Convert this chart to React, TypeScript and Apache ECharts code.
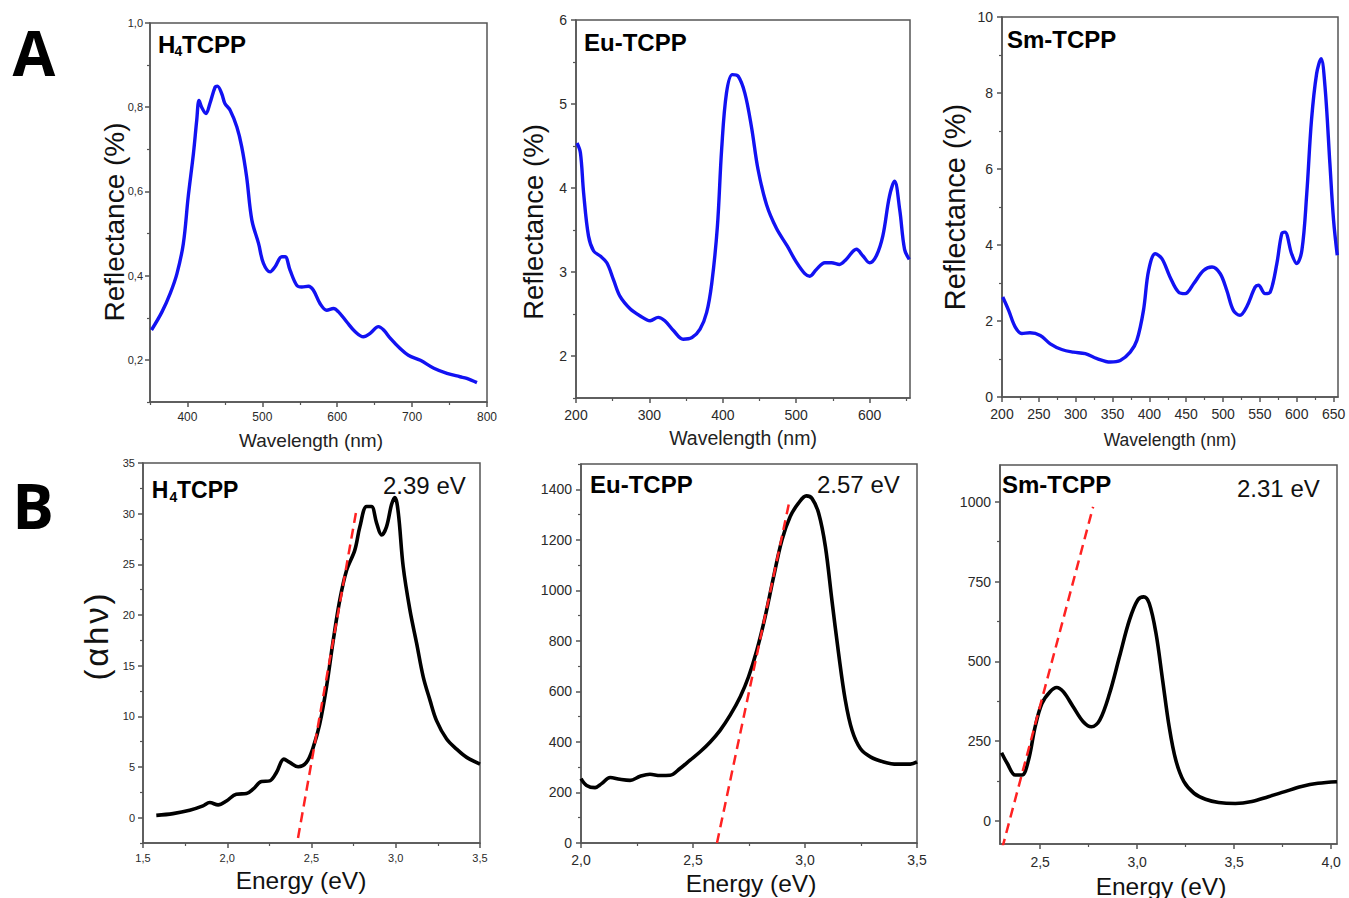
import React, { useEffect, useRef } from "react";
import * as echarts from "echarts";

// ---------- DATA ----------
// Panel A: reflectance spectra
const h4Wavelength = [352, 366, 377, 386, 394.5, 401, 408, 412.4, 415.5, 419, 424.8, 430, 437, 440, 445.8, 450, 457, 466, 472.5, 479, 486, 495, 501.5, 510.4, 517, 526, 530.4, 537, 546, 552.7, 561.6, 568, 577, 586, 595, 601.7, 612.8, 624, 635, 644, 655, 662, 671, 684, 695, 711, 729, 746.5, 764, 773, 786.6];
const h4Reflectance = [0.271, 0.314, 0.358, 0.405, 0.476, 0.587, 0.69, 0.769, 0.816, 0.8, 0.785, 0.809, 0.848, 0.85, 0.832, 0.809, 0.793, 0.753, 0.706, 0.635, 0.532, 0.476, 0.429, 0.409, 0.421, 0.445, 0.445, 0.413, 0.377, 0.373, 0.375, 0.366, 0.334, 0.318, 0.322, 0.314, 0.29, 0.267, 0.255, 0.263, 0.279, 0.271, 0.251, 0.227, 0.211, 0.199, 0.18, 0.168, 0.16, 0.156, 0.146];

const euWavelength = [201.4, 206, 210.4, 217, 224, 233, 242, 251, 260, 274, 287, 301, 312, 321, 333, 346, 358, 369, 378, 385, 392.6, 398.4, 405, 413, 421, 430, 439, 448, 459.6, 473, 487.7, 500, 511.7, 518.5, 527.5, 539, 548, 559, 568, 582, 591, 600, 609, 618, 627, 634, 641, 647.6, 654];
const euReflectance = [4.535, 4.42, 3.94, 3.43, 3.25, 3.19, 3.11, 2.91, 2.71, 2.56, 2.48, 2.42, 2.46, 2.42, 2.3, 2.2, 2.22, 2.32, 2.52, 2.87, 3.54, 4.46, 5.13, 5.35, 5.33, 5.13, 4.73, 4.22, 3.8, 3.52, 3.31, 3.12, 2.98, 2.95, 3.03, 3.11, 3.11, 3.09, 3.15, 3.27, 3.19, 3.11, 3.19, 3.43, 3.9, 4.08, 3.74, 3.27, 3.15];

const smWavelength = [201, 209, 218, 227, 238, 252, 265.5, 281, 297, 313, 329, 347, 360.5, 374, 383, 392, 399, 408, 417, 428, 439.6, 448.6, 460, 473.5, 485, 496, 505, 514, 523, 532, 543.5, 548, 557, 564, 573, 579.7, 584, 593, 600, 607, 613.6, 620, 627, 633, 638.4, 645, 650, 655];
const smReflectance = [2.63, 2.28, 1.84, 1.67, 1.69, 1.62, 1.4, 1.25, 1.18, 1.14, 1.01, 0.92, 0.96, 1.18, 1.49, 2.28, 3.33, 3.77, 3.64, 3.16, 2.76, 2.72, 2.98, 3.33, 3.42, 3.25, 2.81, 2.28, 2.15, 2.37, 2.89, 2.94, 2.72, 2.76, 3.51, 4.3, 4.34, 3.77, 3.51, 3.86, 5.35, 7.28, 8.51, 8.9, 8.16, 6.14, 4.65, 3.73];

// Panel B: Tauc plots
const h4Energy = [1.579, 1.678, 1.777, 1.856, 1.896, 1.946, 1.995, 2.054, 2.114, 2.153, 2.203, 2.252, 2.292, 2.336, 2.371, 2.421, 2.47, 2.51, 2.549, 2.589, 2.629, 2.668, 2.708, 2.757, 2.787, 2.827, 2.856, 2.886, 2.916, 2.945, 2.975, 2.995, 3.015, 3.044, 3.084, 3.124, 3.163, 3.203, 3.242, 3.302, 3.361, 3.421, 3.5];
const h4Ahv = [0.23, 0.4, 0.73, 1.16, 1.49, 1.26, 1.65, 2.31, 2.38, 2.81, 3.57, 3.63, 4.46, 5.78, 5.45, 5.02, 5.45, 6.94, 9.25, 12.9, 17.5, 21.5, 24.4, 26.4, 28.7, 30.7, 30.7, 29.1, 27.9, 28.7, 30.9, 31.6, 30.1, 24.8, 20.5, 17.2, 13.9, 11.6, 9.58, 7.76, 6.77, 5.95, 5.29];
const h4FitEnergy = [2.42, 2.765];
const h4FitAhv = [-2, 30.2];

const euEnergy = [2.0, 2.025, 2.063, 2.092, 2.13, 2.174, 2.219, 2.264, 2.308, 2.353, 2.398, 2.442, 2.487, 2.532, 2.577, 2.621, 2.666, 2.711, 2.748, 2.785, 2.822, 2.86, 2.897, 2.934, 2.971, 3.006, 3.031, 3.061, 3.091, 3.12, 3.15, 3.18, 3.21, 3.247, 3.292, 3.351, 3.411, 3.47, 3.5];
const euAhv = [255, 228, 219, 235, 259, 252, 248, 264, 272, 267, 268, 295, 328, 361, 400, 446, 506, 579, 658, 763, 895, 1054, 1199, 1292, 1345, 1374, 1364, 1305, 1173, 962, 750, 565, 446, 374, 341, 321, 312, 312, 321];
const euFitEnergy = [2.607, 2.931];
const euFitAhv = [0, 1355];

const smEnergy = [2.301, 2.33, 2.372, 2.406, 2.44, 2.474, 2.509, 2.551, 2.585, 2.619, 2.67, 2.722, 2.764, 2.807, 2.858, 2.909, 2.96, 3.003, 3.034, 3.062, 3.097, 3.131, 3.165, 3.199, 3.241, 3.293, 3.352, 3.42, 3.506, 3.591, 3.676, 3.761, 3.847, 3.932, 4.03];
const smAhv = [214, 181, 144, 144, 191, 295, 368, 405, 418, 405, 358, 311, 295, 316, 400, 515, 629, 692, 702, 682, 588, 442, 295, 191, 123, 87, 68, 58, 55, 61, 76, 92, 108, 118, 123];
const smFitEnergy = [2.304, 2.773];
const smFitAhv = [-86, 984];

// Tick values
const aWlTicks1 = [400, 500, 600, 700, 800];
const aWlMinor1 = [350, 450, 550, 650, 750];
const aReflTicks1 = [0.2, 0.4, 0.6, 0.8, 1.0];
const aReflMinor1 = [0.1, 0.3, 0.5, 0.7, 0.9];
const aWlTicks2 = [200, 300, 400, 500, 600];
const aWlMinor2 = [250, 350, 450, 550, 650];
const aReflTicks2 = [2, 3, 4, 5, 6];
const aReflMinor2 = [1.5, 2.5, 3.5, 4.5, 5.5];
const aWlTicks3 = [200, 250, 300, 350, 400, 450, 500, 550, 600, 650];
const aWlMinor3 = [225, 275, 325, 375, 425, 475, 525, 575, 625];
const aReflTicks3 = [0, 2, 4, 6, 8, 10];
const aReflMinor3 = [1, 3, 5, 7, 9];
const bETicks1 = [1.5, 2.0, 2.5, 3.0, 3.5];
const bEMinor1 = [1.75, 2.25, 2.75, 3.25];
const bYTicks1 = [0, 5, 10, 15, 20, 25, 30, 35];
const bYMinor1 = [-2.5, 2.5, 7.5, 12.5, 17.5, 22.5, 27.5, 32.5];
const bETicks2 = [2.0, 2.5, 3.0, 3.5];
const bEMinor2 = [2.25, 2.75, 3.25];
const bYTicks2 = [0, 200, 400, 600, 800, 1000, 1200, 1400];
const bYMinor2 = [100, 300, 500, 700, 900, 1100, 1300, 1500];
const bETicks3 = [2.5, 3.0, 3.5, 4.0];
const bEMinor3 = [2.75, 3.25, 3.75];
const bYTicks3 = [0, 250, 500, 750, 1000];
const bYMinor3 = [125, 375, 625, 875];

// ---------- HELPERS ----------
const FONT = 'Arial, "Liberation Sans", Helvetica, sans-serif';
const AX = "#555";
const zip = (xs: number[], ys: number[]) => xs.map((x, i) => [x, ys[i]]);
const fmt = (dec: number) => (v: number) => v.toFixed(dec).replace(".", ",");

type AxisSpec = { min: number; max: number; major: number[]; minor: number[]; dec: number; fs: number; margin: number };

function makeAxes(kind: "x" | "y", gridIndex: number, s: AxisSpec) {
  const position = kind === "x" ? "bottom" : "left";
  const primary = {
    type: "value",
    gridIndex,
    position,
    min: s.min,
    max: s.max,
    axisLine: { show: true, onZero: false, lineStyle: { color: AX, width: 1.5 } },
    axisTick: { show: true, customValues: s.major, length: 5, inside: false, lineStyle: { color: AX, width: 1.5 } },
    axisLabel: { show: true, customValues: s.major, formatter: fmt(s.dec), fontSize: s.fs, color: "#2a2a2a", fontFamily: FONT, margin: s.margin },
    splitLine: { show: false },
  };
  const secondary = {
    type: "value",
    gridIndex,
    position,
    min: s.min,
    max: s.max,
    axisLine: { show: false, onZero: false },
    axisTick: { show: true, customValues: s.minor, length: 3, inside: false, lineStyle: { color: AX, width: 1.2 } },
    axisLabel: { show: false },
    splitLine: { show: false },
  };
  return [primary, secondary];
}

const panels = [
  {
    grid: { left: 150, top: 23, width: 337, height: 379 },
    x: { min: 350, max: 800, major: aWlTicks1, minor: aWlMinor1, dec: 0, fs: 12, margin: 9 },
    y: { min: 0.1, max: 1.0, major: aReflTicks1, minor: aReflMinor1, dec: 1, fs: 11, margin: 7 },
    data: zip(h4Wavelength, h4Reflectance), color: "#1212f2", width: 3.4, fit: null as null | number[][],
  },
  {
    grid: { left: 576, top: 20, width: 334, height: 378 },
    x: { min: 200, max: 655, major: aWlTicks2, minor: aWlMinor2, dec: 0, fs: 14, margin: 10 },
    y: { min: 1.5, max: 6, major: aReflTicks2, minor: aReflMinor2, dec: 0, fs: 14, margin: 9 },
    data: zip(euWavelength, euReflectance), color: "#1212f2", width: 3.4, fit: null as null | number[][],
  },
  {
    grid: { left: 1002, top: 17, width: 336, height: 380 },
    x: { min: 200, max: 656, major: aWlTicks3, minor: aWlMinor3, dec: 0, fs: 14, margin: 10 },
    y: { min: 0, max: 10, major: aReflTicks3, minor: aReflMinor3, dec: 0, fs: 14, margin: 9 },
    data: zip(smWavelength, smReflectance), color: "#1212f2", width: 3.4, fit: null as null | number[][],
  },
  {
    grid: { left: 143, top: 463, width: 337, height: 380 },
    x: { min: 1.5, max: 3.5, major: bETicks1, minor: bEMinor1, dec: 1, fs: 11, margin: 9 },
    y: { min: -2.5, max: 35, major: bYTicks1, minor: bYMinor1, dec: 0, fs: 11, margin: 8 },
    data: zip(h4Energy, h4Ahv), color: "#000", width: 3.6, fit: zip(h4FitEnergy, h4FitAhv),
  },
  {
    grid: { left: 581, top: 464, width: 336, height: 379 },
    x: { min: 2.0, max: 3.5, major: bETicks2, minor: bEMinor2, dec: 1, fs: 14, margin: 10 },
    y: { min: 0, max: 1500, major: bYTicks2, minor: bYMinor2, dec: 0, fs: 14, margin: 9 },
    data: zip(euEnergy, euAhv), color: "#000", width: 3.6, fit: zip(euFitEnergy, euFitAhv),
  },
  {
    grid: { left: 1000, top: 465, width: 337, height: 379 },
    x: { min: 2.293, max: 4.03, major: bETicks3, minor: bEMinor3, dec: 1, fs: 14, margin: 11 },
    y: { min: -72, max: 1115, major: bYTicks3, minor: bYMinor3, dec: 0, fs: 14, margin: 9 },
    data: zip(smEnergy, smAhv), color: "#000", width: 3.6, fit: zip(smFitEnergy, smFitAhv),
  },
];

function txt(x: number, y: number, text: string, fontSize: number, opts: any = {}) {
  return {
    type: "text",
    x,
    y,
    rotation: opts.rotation || 0,
    silent: true,
    style: {
      text,
      fontSize,
      fontWeight: opts.bold ? "bold" : "normal",
      fontFamily: opts.family || FONT,
      fill: opts.color || "#111",
      textAlign: opts.align || "left",
      textVerticalAlign: "middle",
    },
  };
}

function buildOption() {
  const grids: any[] = [];
  const xAxes: any[] = [];
  const yAxes: any[] = [];
  const series: any[] = [];
  panels.forEach((p, i) => {
    grids.push({
      ...p.grid,
      show: true,
      borderColor: AX,
      borderWidth: 1.5,
      backgroundColor: "transparent",
      containLabel: false,
      outerBoundsMode: "none",
    });
    xAxes.push(...makeAxes("x", i, p.x));
    yAxes.push(...makeAxes("y", i, p.y));
    series.push({
      type: "line",
      xAxisIndex: 2 * i,
      yAxisIndex: 2 * i,
      data: p.data,
      showSymbol: false,
      symbol: "none",
      smooth: 0.35,
      clip: true,
      lineStyle: { color: p.color, width: p.width },
      z: 3,
    });
    if (p.fit) {
      series.push({
        type: "line",
        xAxisIndex: 2 * i,
        yAxisIndex: 2 * i,
        data: p.fit,
        showSymbol: false,
        symbol: "none",
        clip: true,
        lineStyle: { color: "#ff2222", width: 2.5, type: [10, 6] },
        z: 4,
      });
    }
  });

  const graphic: any[] = [
    txt(34, 52, "A", 62, { bold: true, align: "center", family: '"Open Sans", Arial, sans-serif', color: "#000" }),
    txt(33, 505, "B", 62, { bold: true, align: "center", family: '"Open Sans", Arial, sans-serif', color: "#000" }),
    // Panel A labels
    txt(158, 44, "H", 24, { bold: true, color: "#000" }),
    txt(174.5, 51, "4", 14, { bold: true, color: "#000" }),
    txt(182, 44, "TCPP", 24, { bold: true, color: "#000" }),
    txt(584, 42, "Eu-TCPP", 24, { bold: true, color: "#000" }),
    txt(1007, 39.5, "Sm-TCPP", 24, { bold: true, color: "#000" }),
    // Panel A axis titles
    txt(311, 440, "Wavelength (nm)", 19, { align: "center", color: "#222" }),
    txt(743, 438, "Wavelength (nm)", 19.5, { align: "center", color: "#222" }),
    txt(1170, 440, "Wavelength (nm)", 17.5, { align: "center", color: "#222" }),
    txt(114, 222, "Reflectance (%)", 28, { align: "center", rotation: Math.PI / 2, color: "#111" }),
    txt(533, 222, "Reflectance (%)", 27.5, { align: "center", rotation: Math.PI / 2, color: "#111" }),
    txt(955, 207, "Reflectance (%)", 29, { align: "center", rotation: Math.PI / 2, color: "#111" }),
    // Panel B labels
    txt(151.7, 490, "H", 23, { bold: true, color: "#000" }),
    txt(169.5, 497, "4", 14, { bold: true, color: "#000" }),
    txt(177, 490, "TCPP", 23, { bold: true, color: "#000" }),
    txt(590, 484.5, "Eu-TCPP", 24, { bold: true, color: "#000" }),
    txt(1002, 484, "Sm-TCPP", 24, { bold: true, color: "#000" }),
    txt(383, 485, "2.39 eV", 24, { color: "#111" }),
    txt(817, 484.5, "2.57 eV", 24, { color: "#111" }),
    txt(1237, 488, "2.31 eV", 24, { color: "#111" }),
    // Panel B axis titles
    txt(301, 880, "Energy (eV)", 24.5, { align: "center", color: "#111" }),
    txt(751, 883, "Energy (eV)", 24.5, { align: "center", color: "#111" }),
    txt(1161, 886, "Energy (eV)", 24.5, { align: "center", color: "#111" }),
    txt(96, 637, "(\u200Aα\u200Ah\u200Aν\u200A)", 33, { align: "center", rotation: Math.PI / 2, color: "#111" }),
  ];

  return {
    animation: false,
    backgroundColor: "#fff",
    grid: grids,
    xAxis: xAxes,
    yAxis: yAxes,
    series,
    graphic,
  };
}

export default function App() {
  const ref = useRef<HTMLDivElement>(null);
  useEffect(() => {
    if (!ref.current) return;
    const chart = echarts.init(ref.current, null, { renderer: "svg" });
    chart.setOption(buildOption() as any);
    return () => chart.dispose();
  }, []);
  return (
    <div
      ref={ref}
      style={{ position: "absolute", left: 0, top: 0, width: 1349, height: 898, background: "#fff" }}
    />
  );
}
